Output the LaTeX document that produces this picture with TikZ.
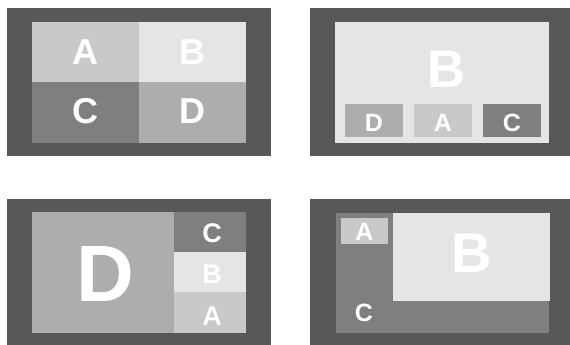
\documentclass[tikz,border=0pt]{standalone}
\usepackage{fontspec}
\setmainfont{Liberation Sans}
\definecolor{frameG}{HTML}{595757}
\definecolor{colA}{HTML}{C9C9C9}
\definecolor{colB}{HTML}{E5E5E5}
\definecolor{colC}{HTML}{7F7F7F}
\definecolor{colD}{HTML}{ADADAE}
\tikzset{
  letter/.style={text=white, inner sep=0pt, anchor=base, font=\bfseries\fontsize{#1}{#1}\selectfont},
}
\begin{document}
\begin{tikzpicture}[x=1pt,y=-1pt]
\useasboundingbox (0,0) rectangle (570,345);
% Panel 1
\fill[frameG] (7,8) rectangle (271,156);
\fill[colA] (32,22) rectangle (139,82);
\fill[colB] (139,22) rectangle (246,82);
\fill[colC] (32,82) rectangle (139,143);
\fill[colD] (139,82) rectangle (246,143);
\node[letter=36] (p1a) at (85,65) {A};
\node[letter=36] (p1b) at (192,65) {B};
\node[letter=36] (p1c) at (85,123) {C};
\node[letter=36] (p1d) at (192,123) {D};
% Panel 2
\fill[frameG] (310,8) rectangle (570,156);
\fill[colB] (335,22) rectangle (549,143);
\fill[colD] (345,104) rectangle (403,137);
\fill[colA] (414,104) rectangle (472,137);
\fill[colC] (483,104) rectangle (541,137);
\node[letter=53] (p2b) at (447,88) {B};
\node[letter=25] (p2d) at (374,131) {D};
\node[letter=25] (p2a) at (443,131) {A};
\node[letter=25] (p2c) at (512,131) {C};
% Panel 3
\fill[frameG] (7,199) rectangle (271,345);
\fill[colD] (32,212) rectangle (174,333);
\fill[colC] (174,212) rectangle (246,252);
\fill[colB] (174,252) rectangle (246,292);
\fill[colA] (174,292) rectangle (246,333);
\node[letter=80] (p3d) at (105,301) {D};
\node[letter=27] (p3c) at (212,242) {C};
\node[letter=27] (p3b) at (212,283) {B};
\node[letter=27] (p3a) at (212,325) {A};
% Panel 4
\fill[frameG] (310,199) rectangle (570,345);
\fill[colC] (336,213) rectangle (549,333);
\fill[colB] (393,213) rectangle (550,301);
\fill[colA] (341,218) rectangle (388,244);
\node[letter=25] (p4a) at (364.5,240) {A};
\node[letter=25] (p4c) at (364,321) {C};
\node[letter=56] (p4b) at (472,272) {B};
\end{tikzpicture}
\end{document}
